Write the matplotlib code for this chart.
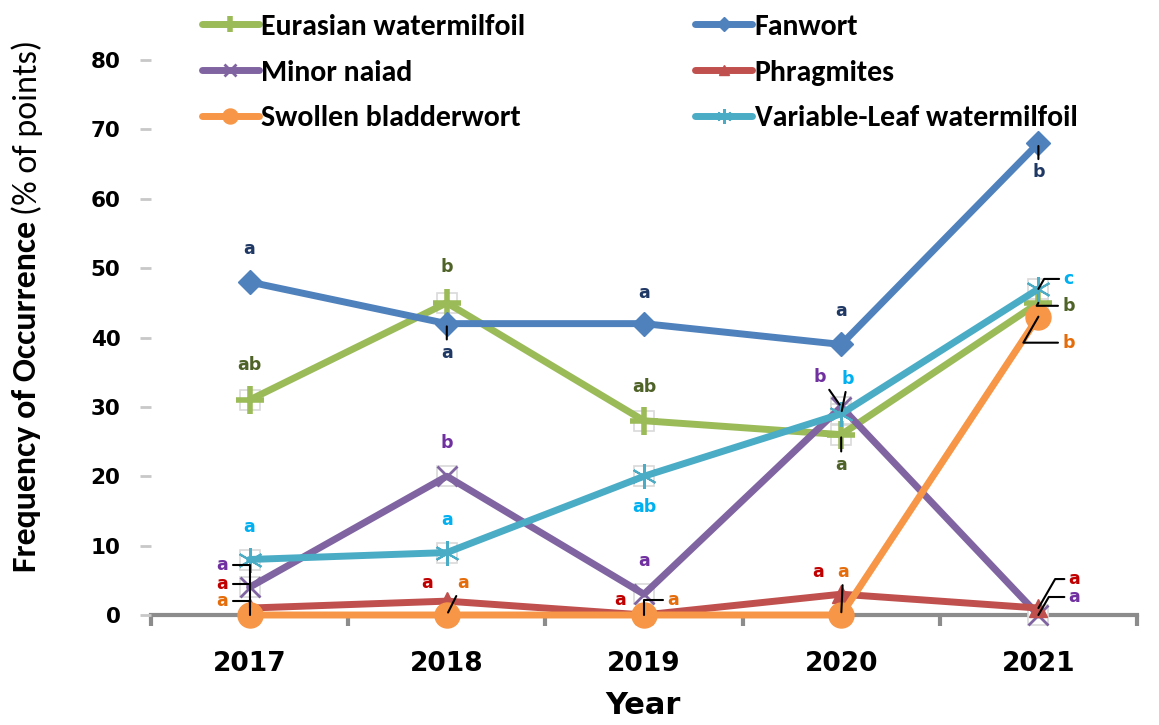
import numpy as np
import matplotlib
matplotlib.use("Agg")
import matplotlib.pyplot as plt

# frequency of occurrence (% of survey points) per year
years = ["2017", "2018", "2019", "2020", "2021"]
eurasian = [31, 45, 28, 26, 45]
fanwort = [48, 42, 42, 39, 68]
naiad = [4, 20, 3, 30, 0]
phragmites = [1, 2, 0, 3, 1]
bladderwort = [0, 0, 0, 0, 43]
varleaf = [8, 9, 20, 29, 47]

# significance letters (same letter = not different between years)
eurasian_sig = ["ab", "b", "ab", "a", "b"]
fanwort_sig = ["a", "a", "a", "a", "b"]
naiad_sig = ["a", "b", "a", "b", "a"]
phragmites_sig = ["a", "a", "a", "a", "a"]
bladderwort_sig = ["a", "a", "a", "a", "b"]
varleaf_sig = ["a", "a", "ab", "b", "c"]

CAL = ["Carlito", "Liberation Sans", "DejaVu Sans"]
BOLD = ["DejaVu Sans"]

# label offsets in pixels (dx, dy) and leader kind: 0 none, 1 straight, 2 elbow down, 3 elbow slanted
series = [
    dict(name="Eurasian watermilfoil", y=eurasian, sig=eurasian_sig, c="#9bbb59", tc="#4f6228",
         m="+", ms=20, mew=4, box=True,
         off=[(0, 35, 0), (0, 36, 0), (0, 34, 0), (0, -30, 1), (30, -3, 3)]),
    dict(name="Fanwort", y=fanwort, sig=fanwort_sig, c="#4f81bd", tc="#1f3864",
         m="D", ms=12, mew=1, box=False,
         off=[(0, 33, 0), (0, -29, 1), (0, 31, 0), (0, 33, 0), (0, -29, 1)]),
    dict(name="Minor naiad", y=naiad, sig=naiad_sig, c="#8064a2", tc="#7030a0",
         m="x", ms=14, mew=2, box=True,
         off=[(-27, 22, 2), (0, 33, 0), (0, 33, 0), (-21, 30, 1), (36, 18, 3)]),
    dict(name="Phragmites", y=phragmites, sig=phragmites_sig, c="#c0504d", tc="#c00000",
         m="^", ms=13, mew=1, box=False,
         off=[(-27, 24, 2), (-20, 18, 0), (-24, 15, 0), (-23, 22, 0), (36, 29, 3)]),
    dict(name="Swollen bladderwort", y=bladderwort, sig=bladderwort_sig, c="#f79646", tc="#e46c0a",
         m="o", ms=18, mew=1, box=False,
         off=[(-27, 14, 2), (16, 32, 1), (29, 15, 2), (2, 43, 1), (30, -26, 3)]),
    dict(name="Variable-Leaf watermilfoil", y=varleaf, sig=varleaf_sig, c="#4bacc6", tc="#00b0f0",
         m=(6, 2, 0), ms=18, mew=1.5, box=True,
         off=[(0, 33, 0), (0, 33, 0), (0, -31, 0), (7, 35, 1), (30, 10, 3)]),
]

fig = plt.figure(figsize=(11.59, 7.25), dpi=100)
ax = fig.add_axes([151 / 1159, 1 - 615 / 725, (1137 - 151) / 1159, (615 - 60) / 725])
x = np.arange(len(years))

handles = []
for s in series:
    if s["box"]:
        ax.plot(x, s["y"], ls="none", marker="s", ms=15, mfc="white", mec="#d9d9d9",
                mew=1.2, clip_on=False, zorder=2)
    h, = ax.plot(x, s["y"], color=s["c"], lw=5, marker=s["m"], ms=s["ms"], mew=s["mew"],
                 mfc=s["c"], mec=s["c"], clip_on=False, zorder=3, solid_capstyle="round",
                 label=s["name"])
    handles.append(h)

for s in series:
    for xi, yi, lab, (dx, dy, kind) in zip(x, s["y"], s["sig"], s["off"]):
        arrow = None
        if kind == 1:
            arrow = dict(arrowstyle="-", color="black", lw=1.5, shrinkA=1, shrinkB=2)
        elif kind == 2:
            arrow = dict(arrowstyle="-", color="black", lw=1.5, shrinkA=1, shrinkB=0,
                         connectionstyle="angle,angleA=0,angleB=90,rad=0")
        elif kind == 3:
            arrow = dict(arrowstyle="-", color="black", lw=1.5, shrinkA=1, shrinkB=0,
                         connectionstyle="angle,angleA=0,angleB=60,rad=0")
        ax.annotate(lab, (xi, yi), xytext=(dx, dy), textcoords="offset pixels",
                    ha="center", va="center", color=s["tc"], fontsize=12.5,
                    fontweight="bold", family=BOLD, arrowprops=arrow, zorder=5,
                    annotation_clip=False)

ax.set_xlim(-0.5, len(years) - 0.5)
ax.set_ylim(0, 80)
ax.set_yticks(np.arange(0, 81, 10))
ax.set_xticks(x)
ax.set_xticklabels(years)
ax.set_xticks(np.arange(-0.5, len(years)), minor=True)
for side in ["top", "right", "left"]:
    ax.spines[side].set_visible(False)
ax.spines["bottom"].set_color("#8c8c8c")
ax.spines["bottom"].set_linewidth(3)
ax.spines["bottom"].set_zorder(1)
ax.tick_params(axis="x", which="major", length=0, pad=26, labelsize=19)
ax.tick_params(axis="x", which="minor", length=8, width=3, color="#8c8c8c", direction="out")
ax.tick_params(axis="y", length=8, width=2, color="#c8c8c8", pad=14, labelsize=15.5)
for t in ax.get_xticklabels() + ax.get_yticklabels():
    t.set_fontweight("bold")
    t.set_family(BOLD)

fig.text(643 / 1159, 1 - 706 / 725, "Year", ha="center", va="center", fontsize=22,
         fontweight="bold", family=BOLD)

# y axis title: bold part followed by plain units
t1 = fig.text(27 / 1159, 1 - 572 / 725, "Frequency of Occurrence", rotation=90,
              ha="center", va="bottom", fontsize=24.5, fontweight="bold", family=CAL)
fig.canvas.draw()
bb = t1.get_window_extent()
fig.text(27 / 1159, (bb.y1 + 6) / 725, "(% of points)", rotation=90, ha="center",
         va="bottom", fontsize=24.5, family=CAL)

# legend filled row by row: reorder for matplotlib's column-wise layout
order = [0, 2, 4, 1, 3, 5]
fig.legend(handles=[handles[i] for i in order], loc="upper left",
           bbox_to_anchor=(190 / 1159, 1 - 2 / 725), ncol=2, frameon=False,
           prop=dict(family=CAL, weight="bold", size=21.5),
           handlelength=1.9, handletextpad=0.08, columnspacing=5.7, labelspacing=0.66,
           markerscale=0.6, borderaxespad=0)

fig.savefig("out.png", dpi=100)
